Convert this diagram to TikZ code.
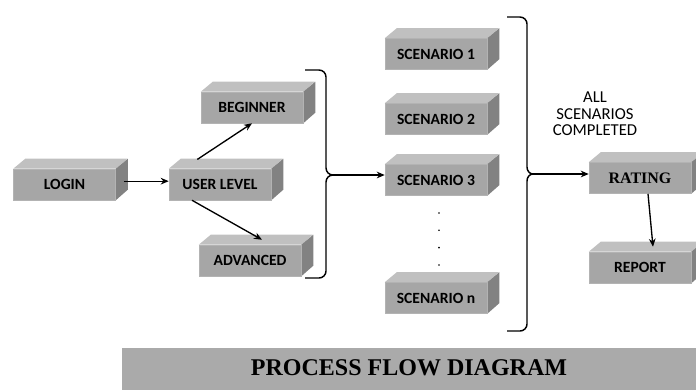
\documentclass[tikz,border=0pt]{standalone}
\usepackage{fontspec}
\setmainfont{Carlito}
\newfontfamily\serifface{Liberation Serif}
\usepackage{tikz}
\usetikzlibrary{arrows.meta}
\usepackage{xcolor}
\definecolor{boxfront}{RGB}{166,166,166}
\definecolor{boxtop}{RGB}{192,192,192}
\definecolor{boxside}{RGB}{130,130,130}
\definecolor{barfill}{RGB}{170,170,170}
\newcommand{\boxfont}{\bfseries\fontsize{11.7}{13}\selectfont}

\begin{document}
\begin{tikzpicture}[
  x=0.75pt, y=0.75pt,
  block/.style={rectangle, fill=boxfront, draw=boxfront!85!white, line width=0.4pt,
    minimum width=76.5pt, minimum height=23.25pt, inner sep=0pt, font=\boxfont,
    append after command={\pgfextra{
      \fill[boxtop] (\tikzlastnode.north west) -- ++(9pt,7.5pt) -- ++(76.5pt,0pt)
        -- (\tikzlastnode.north east) -- cycle;
      \fill[boxside] (\tikzlastnode.north east) -- ++(9pt,7.5pt) -- ++(0pt,-23.25pt)
        -- (\tikzlastnode.south east) -- cycle;
    }}},
  arrow/.style={-{Stealth[length=6pt,width=5pt]}, line width=1pt},
  brace/.style={line width=1.1pt},
  titlebar/.style={rectangle, fill=barfill, minimum width=430.5pt, minimum height=31.5pt,
    inner sep=0pt, font=\serifface\bfseries\fontsize{18}{20}\selectfont}
]
\useasboundingbox (0,0) rectangle (696,-390);

\node[block] (login) at (64.5,-184.5) {LOGIN};
\node[block] (level) at (220,-184.5) {USER LEVEL};
\node[block] (beginner) at (252,-107.5) {BEGINNER};
\node[block] (advanced) at (250,-260.5) {ADVANCED};

\node[block] (sc1) at (436,-54) {SCENARIO 1};
\node[block] (sc2) at (436,-119) {SCENARIO 2};
\node[block] (sc3) at (436,-180) {SCENARIO 3};
\node[block] (scn) at (436,-298) {SCENARIO n};
\foreach \k in {0,...,3}
  \fill (439,-213-17.3*\k) circle (0.9);

\node[block, font=\serifface\bfseries\fontsize{12}{14}\selectfont] (rating) at (640,-178) {RATING};
\node[block] (report) at (640,-267.5) {REPORT};

\node[align=center, font=\fontsize{12.5}{12.4}\selectfont] (done) at (595,-114) {ALL\\SCENARIOS\\COMPLETED};

\node[titlebar] (title) at (409,-369) {\raisebox{2pt}{PROCESS FLOW DIAGRAM}};

% braces
\draw[brace] (305,-70) -- (319,-70) to[out=0,in=90] (326,-77) -- (326,-168)
  to[out=-90,in=180] (333,-175) to[out=180,in=90] (326,-182) -- (326,-271)
  to[out=-90,in=0] (319,-278) -- (305,-278);
\coordinate (b1tip) at (333,-175);
\draw[brace] (507,-17) -- (520,-17) to[out=0,in=90] (527,-24) -- (527,-167)
  to[out=-90,in=180] (533,-174) to[out=180,in=90] (527,-181) -- (527,-324)
  to[out=-90,in=0] (520,-331) -- (507,-331);
\coordinate (b2tip) at (533,-174);

\draw[arrow] ([xshift=6pt,yshift=2.5pt]login.east) -- ([yshift=2.5pt]level.west);
\draw[arrow] ([xshift=-17pt,yshift=7pt]level.north) -- (beginner.south);
\draw[arrow] ([xshift=-21pt]level.south) -- ([xshift=9pt,yshift=3.75pt]advanced.north);
\draw[arrow] (b1tip) -- (sc3.west |- b1tip);
\draw[arrow] (b2tip) -- (rating.west |- b2tip);
\draw[arrow] ([xshift=6pt]rating.south) -- ([xshift=9.75pt,yshift=3.75pt]report.north);

\end{tikzpicture}
\end{document}
